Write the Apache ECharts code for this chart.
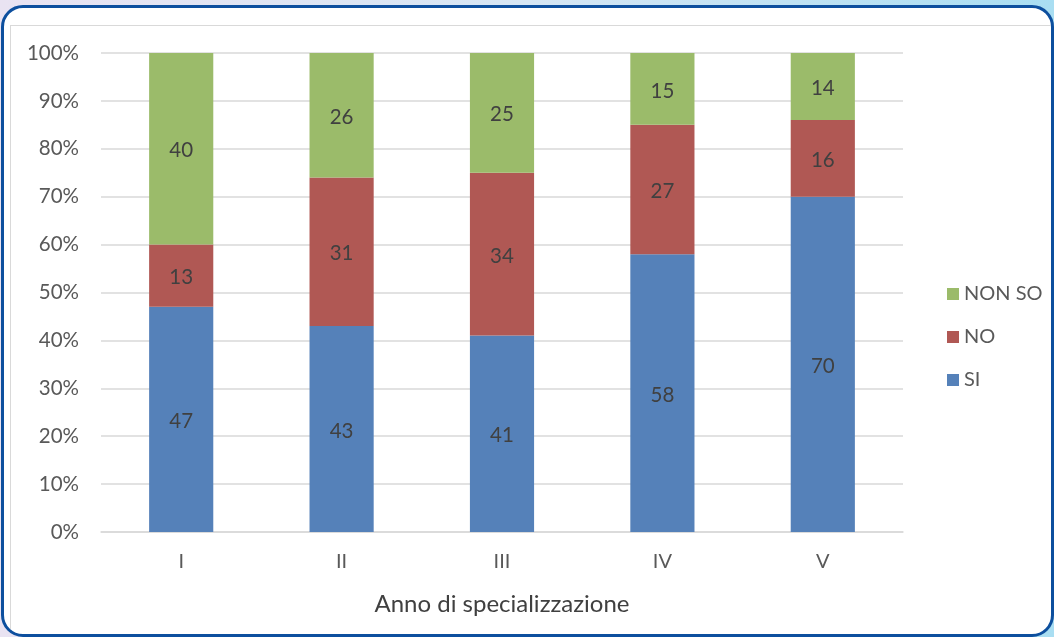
<!DOCTYPE html>
<html>
<head>
<meta charset="utf-8">
<script src="https://cdn.jsdelivr.net/npm/echarts@6/dist/echarts.min.js"></script>
<style>
html,body{margin:0;padding:0;width:1054px;height:637px;overflow:hidden;}
body{background:linear-gradient(to right,#e9e3f2 0%,#d6e6f4 50%,#a9def2 100%);position:relative;}
#frame{position:absolute;left:1px;top:5px;width:1047px;height:626px;border:3px solid #0d4f9e;border-radius:22px;background:#fff;overflow:hidden;}
#inner{position:absolute;left:6px;top:17px;width:1200px;height:800px;border:1px solid #d9d9d9;}
#chart{position:absolute;left:0;top:0;width:1054px;height:637px;}
</style>
</head>
<body>
<div id="frame"><div id="inner"></div></div>
<div id="chart"></div>
<script>
var categories = ['I','II','III','IV','V'];
var si = [47,43,41,58,70];
var no = [13,31,34,27,16];
var nonso = [40,26,25,15,14];
var yTicks = [0,10,20,30,40,50,60,70,80,90,100];

var chart = echarts.init(document.getElementById('chart'), null, {renderer:'canvas'});
var font = 'Lato, "Open Sans", sans-serif';
var lbl = {show:true, position:'inside', color:'#404040', fontSize:20.5, fontFamily:font, offset:[0,2]};
function mk(name, data, color){
  return {name:name, type:'bar', stack:'tot', data:data, barWidth:'40%',
    itemStyle:{color:color}, label:lbl};
}
chart.setOption({
  backgroundColor:'transparent',
  animation:false,
  textStyle:{fontFamily:font},
  grid:{left:101, top:53, right:151, bottom:105},
  legend:{orient:'vertical', left:942, top:279, itemWidth:12, itemHeight:12, itemGap:23,
    icon:'rect', data:['NON SO','NO','SI'],
    textStyle:{fontSize:20, color:'#595959', fontFamily:font, padding:[0,0,0,0]}},
  xAxis:{type:'category', data:categories,
    axisLine:{lineStyle:{color:'#d9d9d9', width:1.5}}, axisTick:{show:false},
    axisLabel:{fontSize:20, color:'#595959', margin:20, fontFamily:font},
    name:'Anno di specializzazione', nameLocation:'middle', nameGap:60,
    nameTextStyle:{fontSize:24, color:'#404040', fontFamily:font}},
  yAxis:{type:'value', min:yTicks[0], max:yTicks[yTicks.length-1], interval:10,
    axisLine:{show:false}, axisTick:{show:false},
    splitLine:{lineStyle:{color:'#d9d9d9', width:1.5}},
    axisLabel:{formatter:'{value}%', fontSize:20.5, color:'#595959', margin:22, fontFamily:font}},
  series:[mk('SI', si, '#5581b9'), mk('NO', no, '#b05854'), mk('NON SO', nonso, '#9bbb6a')]
});
</script>
</body>
</html>
